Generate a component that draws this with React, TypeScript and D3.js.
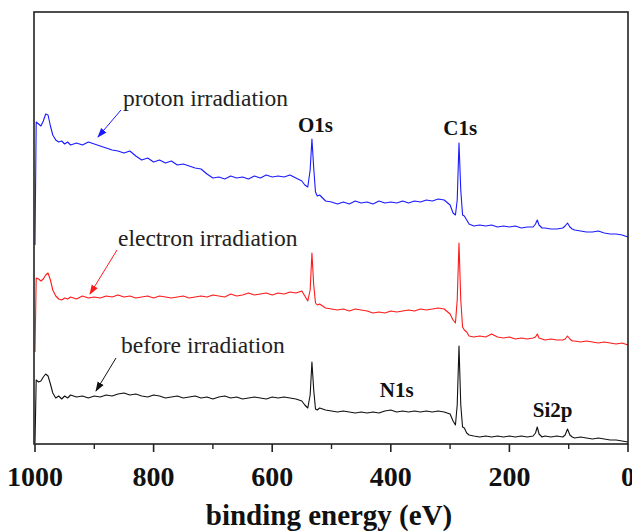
import React from "react";
import * as d3 from "d3";

// binding energy (eV), shared by all three spectra
const energies = [
  1000, 998, 994, 990, 986, 982, 978, 974, 970, 965, 960, 955, 950, 945, 940,
  930, 920, 910, 900, 890, 880, 870, 860, 850, 840, 830, 820, 810, 800, 790, 780, 770, 760, 750, 740,
  730, 720, 710, 700, 690, 680, 670, 660, 650, 640, 630, 620, 610, 600, 590, 580, 570, 560,
  550, 545, 540, 536, 533, 530, 527, 524, 520,
  510, 500, 490, 480, 470, 460, 450, 440, 430, 420, 410, 400, 390, 380, 370, 360, 350, 340, 330, 320, 310, 300,
  295, 291, 288, 285, 282, 279, 276, 272, 268,
  260, 250, 240, 230, 220, 210, 200, 190, 180, 170, 160,
  156, 153, 150, 145, 140,
  130, 120, 110,
  106, 102, 98, 94, 90,
  80, 70, 60, 50, 40, 30, 20, 10, 0,
];

// intensities (a.u., stacked as plotted)
const protonValues = [
  198, 321, 319, 317, 322, 329, 328, 317, 308, 303, 301, 302, 299, 301, 298,
  300, 298, 301, 299, 297, 295, 293, 292, 290, 292, 287, 283, 285, 281, 283, 280, 282, 278, 279, 277,
  275, 274, 269, 265, 266, 264, 267, 265, 266, 264, 267, 265, 268, 266, 267, 266, 268, 265,
  262, 258, 256, 273, 304, 275, 251, 247, 248,
  242, 241, 239, 241, 239, 242, 240, 241, 239, 242, 240, 241, 240, 242, 240, 242, 241, 243, 242, 244, 243, 238,
  230, 228, 243, 300, 253, 228, 227, 223, 219,
  217, 218, 217, 218, 216, 217, 216, 217, 215, 216, 216,
  219, 223, 218, 215, 215,
  214, 214, 215,
  217, 220, 216, 214, 213,
  212, 211, 211, 212, 210, 209, 209, 208, 206,
];

const electronValues = [
  91, 165, 164, 162, 164, 168, 170, 163, 153, 147, 144, 143, 145, 144, 146,
  144, 147, 145, 146, 145, 147, 146, 148, 146, 147, 145, 146, 147, 145, 147, 146, 145, 146, 147, 145,
  146, 147, 146, 148, 147, 146, 149, 147, 148, 150, 148, 149, 150, 148, 150, 149, 151, 150,
  152, 147, 142, 153, 190, 158, 140, 138, 139,
  135, 134, 133, 134, 132, 134, 133, 132, 130, 131, 130, 132, 131, 132, 133, 132, 134, 133, 134, 135, 134, 129,
  123, 120, 143, 200, 143, 116, 113, 111, 107,
  106, 107, 106, 109, 106, 105, 106, 104, 105, 104, 105,
  106, 109, 105, 104, 103,
  104, 103, 103,
  104, 107, 104, 102, 102,
  101, 102, 101, 100, 101, 100, 99, 100, 98,
];

const beforeValues = [
  0, 63, 61, 62, 66, 69, 67, 59, 50, 45, 47, 44, 47, 45, 48,
  46, 47, 45, 47, 46, 48, 47, 49, 50, 48, 49, 47, 46, 48, 47, 45, 46, 47, 45, 46,
  47, 45, 46, 44, 46, 47, 45, 46, 44, 45, 46, 45, 44, 46, 45, 46, 45, 44,
  42, 38, 35, 48, 81, 53, 34, 33, 35,
  33, 32, 31, 32, 31, 30, 31, 30, 31, 30, 32, 33, 31, 32, 31, 32, 31, 32, 31, 32, 31, 29,
  22, 18, 38, 97, 38, 16, 15, 10, 8,
  7, 6, 7, 6, 7, 6, 7, 6, 7, 6, 7,
  10, 16, 9, 6, 7,
  6, 7, 6,
  8, 14, 8, 6, 5,
  6, 5, 4, 5, 4, 3, 3, 2, 1,
];

const seriesNames = ["proton irradiation", "electron irradiation", "before irradiation"];
const seriesColors = ["#1a1aff", "#ff1a1a", "#111111"];
const seriesValues = [protonValues, electronValues, beforeValues];

const majorTicks = [1000, 800, 600, 400, 200, 0];
const minorTicks = [900, 700, 500, 300, 100];

const peakLabels = ["O1s", "C1s", "N1s", "Si2p"];
const peakEnergies = [527, 283, 390, 127];

const xTitle = "binding energy (eV)";

// layout
const W = 632;
const H = 531;
const left = 35;
const right = 628;
const top = 12;
const bottom = 444;

// pixel placement of annotations (text left/baseline, arrow start -> end)
const annLayout = [
  { tx: 123, ty: 106, x1: 121, y1: 110, x2: 98, y2: 137 },
  { tx: 118, ty: 246, x1: 117, y1: 250, x2: 90, y2: 294 },
  { tx: 121, ty: 353, x1: 116, y1: 358, x2: 96, y2: 391 },
];
const peakLabelY = [132, 135, 397, 417];

const serif = "'Liberation Serif', 'Times New Roman', serif";

export default function App() {
  const x = d3.scaleLinear().domain([1000, 0]).range([left, right]);
  const y = d3.scaleLinear().domain([-1, 431]).range([bottom, top]);

  const line = d3
    .line<number>()
    .x((_, i) => x(energies[i]))
    .y((d) => y(d));

  return (
    <svg
      width={W}
      height={H}
      style={{ position: "absolute", left: 0, top: 0, background: "#fff" }}
      fontFamily={serif}
    >
      <defs>
        {seriesColors.map((c, i) => (
          <marker
            key={i}
            id={`arr${i}`}
            viewBox="0 0 10 10"
            refX="9"
            refY="5"
            markerWidth="10"
            markerHeight="10"
            orient="auto-start-reverse"
            markerUnits="userSpaceOnUse"
          >
            <path d="M0,1.5 L10,5 L0,8.5 Z" fill={c} />
          </marker>
        ))}
      </defs>

      {seriesValues.map((vals, i) => (
        <path
          key={i}
          d={line(vals) || ""}
          fill="none"
          stroke={seriesColors[i]}
          strokeWidth={1.1}
          strokeLinejoin="round"
        />
      ))}

      <rect
        x={left - 1}
        y={top}
        width={right - left + 1}
        height={bottom - top}
        fill="none"
        stroke="#222"
        strokeWidth={1.6}
      />

      {majorTicks.map((t) => (
        <g key={t}>
          <line x1={x(t)} x2={x(t)} y1={bottom} y2={bottom + 8} stroke="#222" strokeWidth={1.6} />
          <text
            x={x(t)}
            y={486}
            textAnchor="middle"
            fontSize={28}
            fontWeight="bold"
            fill="#111"
          >
            {t}
          </text>
        </g>
      ))}
      {minorTicks.map((t) => (
        <line key={t} x1={x(t)} x2={x(t)} y1={bottom} y2={bottom + 5} stroke="#222" strokeWidth={1.4} />
      ))}

      <text x={329} y={525} textAnchor="middle" fontSize={29} fontWeight="bold" fill="#111">
        {xTitle}
      </text>

      {annLayout.map((a, i) => (
        <g key={i}>
          <text x={a.tx} y={a.ty} fontSize={23.5} fill="#222">
            {seriesNames[i]}
          </text>
          <line
            x1={a.x1}
            y1={a.y1}
            x2={a.x2}
            y2={a.y2}
            stroke={seriesColors[i]}
            strokeWidth={1}
            markerEnd={`url(#arr${i})`}
          />
        </g>
      ))}

      {peakLabels.map((p, i) => (
        <text
          key={p}
          x={x(peakEnergies[i])}
          y={peakLabelY[i]}
          textAnchor="middle"
          fontSize={21}
          fontWeight="bold"
          fill="#111"
        >
          {p}
        </text>
      ))}
    </svg>
  );
}
